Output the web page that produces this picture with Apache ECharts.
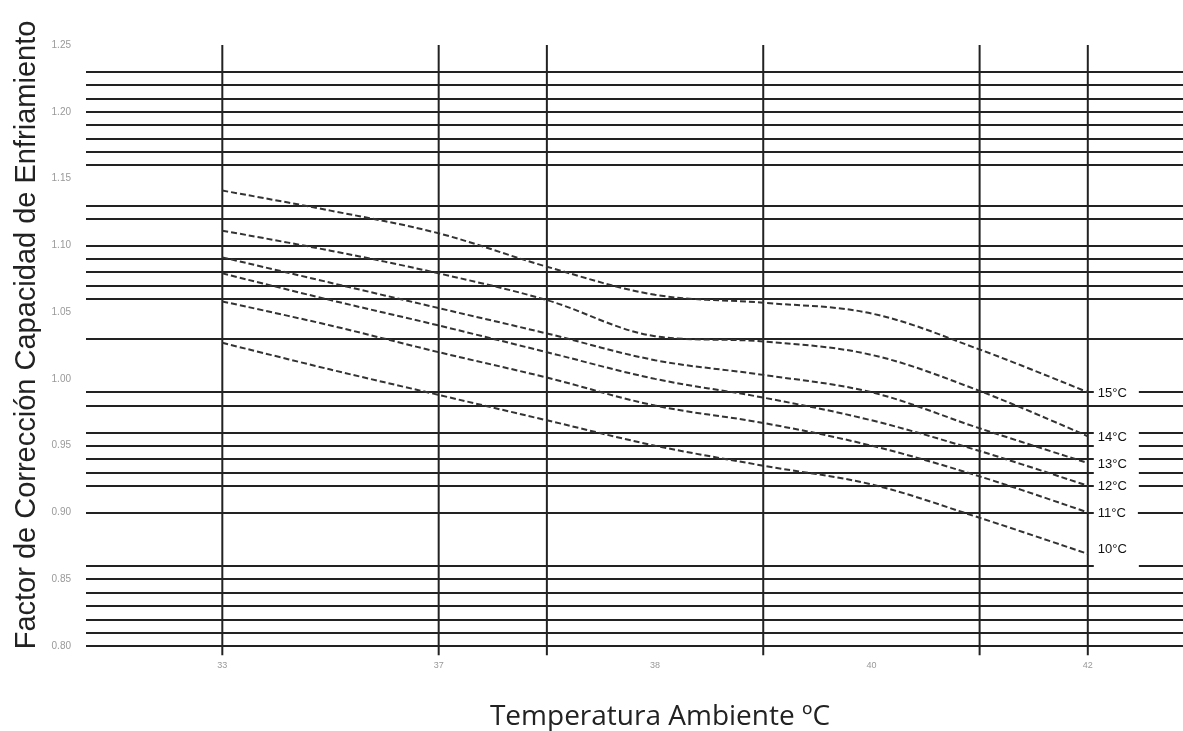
<!DOCTYPE html>
<html>
<head>
<meta charset="utf-8">
<script src="https://cdn.jsdelivr.net/npm/echarts@6/dist/echarts.min.js"></script>
<style>html,body{margin:0;padding:0;background:#fff;}#c{width:1183px;height:731px;}</style>
</head>
<body>
<div id="c"></div>
<script>
// x positions (category index units) and their tick labels
const xPositions = [0, 0.5, 1, 1.5, 2, 2.5, 3, 3.5, 4];
const xTickValues = [0, 1, 2, 3, 4];
const xTickLabels = ['33', '37', '38', '40', '42'];
// Vertical rule positions (index units)
const vLines = [0, 1, 1.5, 2.5, 3.5, 4];
// Horizontal rule values
const hLines = [1.23, 1.22, 1.21, 1.20, 1.19, 1.18, 1.17, 1.16, 1.13, 1.12, 1.10, 1.09, 1.08, 1.07, 1.06, 1.03,
  0.99, 0.98, 0.96, 0.95, 0.94, 0.93, 0.92, 0.90, 0.86, 0.85, 0.84, 0.83, 0.82, 0.81, 0.80];
// Series names
const seriesNames = ['15ºC', '14ºC', '13ºC', '12ºC', '11ºC', '10ºC'];
// Series values
const s15 = [1.141, 1.126, 1.109, 1.084, 1.063, 1.057, 1.049, 1.022, 0.990];
const s14 = [1.111, 1.096, 1.079, 1.059, 1.032, 1.028, 1.018, 0.991, 0.957];
const s13 = [1.091, 1.072, 1.053, 1.034, 1.014, 1.003, 0.990, 0.963, 0.937];
const s12 = [1.079, 1.059, 1.040, 1.020, 1.000, 0.986, 0.969, 0.946, 0.920];
const s11 = [1.058, 1.040, 1.020, 1.001, 0.980, 0.967, 0.950, 0.927, 0.900];
const s10 = [1.027, 1.007, 0.988, 0.969, 0.950, 0.935, 0.921, 0.896, 0.869];
const seriesValues = [s15, s14, s13, s12, s11, s10];
const yTitle = 'Factor de Corrección Capacidad de Enfriamiento';
const xTitle = 'Temperatura Ambiente ºC';

const chart = echarts.init(document.getElementById('c'));
const ruleStyle = {color: '#222', width: 2, type: 'solid'};

const curves = seriesNames.map((name, i) => ({
  name: name,
  type: 'line',
  smooth: 0.35,
  symbol: 'none',
  z: 5,
  data: xPositions.map((x, j) => [x, seriesValues[i][j]]),
  lineStyle: {color: '#333', width: 2, type: [6, 3]},
  endLabel: {
    show: true,
    formatter: name.replace('º', '°'),
    color: '#111',
    fontSize: 13,
    fontFamily: 'Liberation Sans, Arial, sans-serif',
    backgroundColor: '#fff',
    distance: 6,
    offset: i === 5 ? [0, -4] : [0, 1],
    padding: i === 5 ? [4, 12, 30, 4] : [6, 12, 4, 4]
  }
}));

const verticals = vLines.map(x => ({
  type: 'line',
  symbol: 'none',
  silent: true,
  clip: false,
  z: 1,
  data: [[x, 1.25], [x, 0.793]],
  lineStyle: ruleStyle
}));

chart.setOption({
  animation: false,
  backgroundColor: '#fff',
  grid: {left: 86, right: 0, top: 45, bottom: 85, outerBoundsMode: 'none', containLabel: false},
  graphic: [
    {type: 'text', x: 27, y: 335, rotation: Math.PI / 2,
      style: {text: yTitle, fontFamily: 'Liberation Sans, Arial', fontSize: 29, fill: '#222', align: 'center', verticalAlign: 'middle'}},
    {type: 'text', x: 660, y: 717,
      style: {text: xTitle, fontFamily: 'Open Sans', fontSize: 28, fill: '#222', align: 'center', verticalAlign: 'middle'}}
  ],
  xAxis: {
    type: 'value',
    min: -0.63,
    max: 4.44,
    axisLine: {show: false},
    axisTick: {show: false},
    splitLine: {show: false},
    axisLabel: {
      customValues: xTickValues,
      formatter: v => xTickLabels[Math.round(v)],
      color: '#999',
      fontSize: 9,
      margin: 15
    }
  },
  yAxis: {
    type: 'value',
    min: 0.80,
    max: 1.25,
    interval: 0.05,
    axisLine: {show: false},
    axisTick: {show: false},
    splitLine: {show: false},
    axisLabel: {
      formatter: v => v.toFixed(2),
      color: '#999',
      fontSize: 10,
      margin: 15
    }
  },
  series: [
    {
      type: 'line',
      data: [],
      z: 1,
      silent: true,
      markLine: {
        silent: true,
        symbol: 'none',
        label: {show: false},
        lineStyle: ruleStyle,
        data: hLines.map(v => ({yAxis: v}))
      }
    }
  ].concat(verticals).concat(curves)
});
</script>
</body>
</html>
